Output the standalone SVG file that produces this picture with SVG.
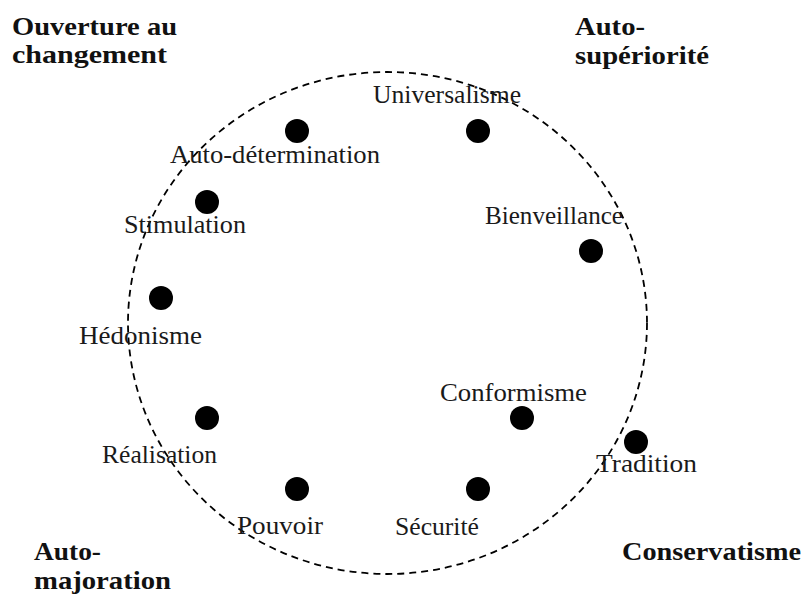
<svg xmlns="http://www.w3.org/2000/svg" width="809" height="599" viewBox="0 0 809 599">
<style>
.dot{fill:#000}
.lbl{font-family:"Liberation Serif","Times New Roman",serif;font-size:26px;fill:#1a1a1a}
.hd{font-family:"Liberation Serif","Times New Roman",serif;font-size:26px;font-weight:bold;fill:#111}
.ring{fill:none;stroke:#000;stroke-width:1.8;stroke-dasharray:7 5}
</style>
<rect width="809" height="599" fill="#fff"/>
<g id="connectors">
<ellipse class="ring" cx="387.5" cy="323" rx="259.5" ry="251"/>
</g>
<g id="universalisme"><circle class="dot" cx="478" cy="131" r="12"/><text class="lbl" x="373" y="103" textLength="148" lengthAdjust="spacingAndGlyphs">Universalisme</text></g>
<g id="autodetermination"><circle class="dot" cx="297" cy="131" r="12"/><text class="lbl" x="170" y="163" textLength="210" lengthAdjust="spacingAndGlyphs">Auto-détermination</text></g>
<g id="stimulation"><circle class="dot" cx="207" cy="202" r="12"/><text class="lbl" x="124" y="233" textLength="122" lengthAdjust="spacingAndGlyphs">Stimulation</text></g>
<g id="bienveillance"><circle class="dot" cx="591" cy="251" r="12"/><text class="lbl" x="485" y="224" textLength="138" lengthAdjust="spacingAndGlyphs">Bienveillance</text></g>
<g id="hedonisme"><circle class="dot" cx="161" cy="298" r="12"/><text class="lbl" x="79" y="344" textLength="123" lengthAdjust="spacingAndGlyphs">Hédonisme</text></g>
<g id="realisation"><circle class="dot" cx="207" cy="418" r="12"/><text class="lbl" x="102" y="463" textLength="115" lengthAdjust="spacingAndGlyphs">Réalisation</text></g>
<g id="conformisme"><circle class="dot" cx="522" cy="418" r="12"/><text class="lbl" x="440" y="401" textLength="147" lengthAdjust="spacingAndGlyphs">Conformisme</text></g>
<g id="tradition"><circle class="dot" cx="636" cy="442" r="12"/><text class="lbl" x="596" y="472" textLength="101" lengthAdjust="spacingAndGlyphs">Tradition</text></g>
<g id="pouvoir"><circle class="dot" cx="297" cy="489" r="12"/><text class="lbl" x="237" y="534" textLength="86" lengthAdjust="spacingAndGlyphs">Pouvoir</text></g>
<g id="securite"><circle class="dot" cx="478" cy="489" r="12"/><text class="lbl" x="395" y="535" textLength="84" lengthAdjust="spacingAndGlyphs">Sécurité</text></g>
<g id="ouverture"><text class="hd" x="12" y="35" textLength="165" lengthAdjust="spacingAndGlyphs">Ouverture au</text><text class="hd" x="12" y="63" textLength="155" lengthAdjust="spacingAndGlyphs">changement</text></g>
<g id="autosuperiorite"><text class="hd" x="575" y="35" textLength="70" lengthAdjust="spacingAndGlyphs">Auto-</text><text class="hd" x="575" y="64" textLength="134" lengthAdjust="spacingAndGlyphs">supériorité</text></g>
<g id="automajoration"><text class="hd" x="34" y="560" textLength="67" lengthAdjust="spacingAndGlyphs">Auto-</text><text class="hd" x="34" y="589" textLength="137" lengthAdjust="spacingAndGlyphs">majoration</text></g>
<g id="conservatisme"><text class="hd" x="622" y="560" textLength="179" lengthAdjust="spacingAndGlyphs">Conservatisme</text></g>
</svg>
